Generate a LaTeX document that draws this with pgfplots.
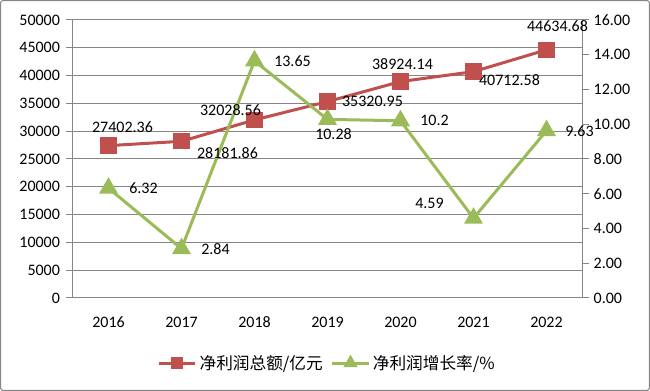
\documentclass[border=0pt]{standalone}
\usepackage{pgfplots}
\pgfplotsset{compat=1.18}
\usepackage{fontspec}
\setmainfont{Carlito}
\newfontfamily\cjk{Noto Sans CJK SC}
\definecolor{cred}{HTML}{C0504D}
\definecolor{cgreen}{HTML}{9BBB59}
\definecolor{gridc}{HTML}{868686}
\newcommand\lf{\fontsize{12}{14}\selectfont}
\begin{document}
\begin{tikzpicture}
\draw[gridc, line width=0.8pt, rounded corners=2pt] (0.4pt,0.4pt) rectangle (487.1pt,292.85pt);
\pgfplotsset{
  common/.style={
    at={(54pt,69.75pt)}, anchor=south west, scale only axis,
    width=383.25pt, height=208.5pt,
    xmin=-0.5, xmax=6.5,
    axis line style={-, gridc, line width=0.75pt},
    tick align=outside, major tick length=4.5pt,
    tick style={gridc, line width=0.75pt},
    tick label style={font=\lf},
    /pgf/number format/assume math mode=true,
    clip=false,
  }
}
\begin{axis}[common,
  ymin=0, ymax=50000,
  xtick={0,...,6}, xticklabels={2016,2017,2018,2019,2020,2021,2022},
  major x tick style={draw=none},
  xticklabel style={yshift=-6pt},
  extra x ticks={-0.5,0.5,...,6.5}, extra x tick labels={},
  extra x tick style={grid=none, major tick length=5pt, tick style={gridc, line width=0.75pt}},
  ytick={0,5000,...,50000},
  yticklabel style={/pgf/number format/1000 sep={}, xshift=-1pt},
  scaled y ticks=false,
  ymajorgrids, grid style={gridc, line width=0.75pt},
  axis x line*=bottom, axis y line*=left,
]
\addplot[cred, line width=2.25pt, mark=square*, mark size=5pt, mark options={solid}] coordinates {
  (0,27402.36) (1,28181.86) (2,32028.56) (3,35320.95) (4,38924.14) (5,40712.58) (6,44634.68)};
\end{axis}
\begin{axis}[common,
  ymin=0, ymax=16,
  axis x line=none, axis y line*=right,
  ytick={0,2,...,16},
  yticklabel style={/pgf/number format/.cd, fixed, fixed zerofill, precision=2},
  legend columns=2,
  legend style={at={(0.5,-0.234)}, anchor=center, draw=none, fill=none,
    font=\cjk\fontsize{12.5}{14}\selectfont,
    /tikz/every even column/.append style={column sep=4pt}},
  legend image code/.code={\draw[mark repeat=2, mark phase=2] plot coordinates {(0cm,0cm) (0.48cm,0cm) (0.96cm,0cm)};},
]
\addlegendimage{cred, line width=2.25pt, mark=square*, mark size=3.5pt, mark options={solid}}
\addlegendentry{净利润总额/亿元}
\addlegendimage{cgreen, line width=2.25pt, mark=triangle*, mark size=4pt, mark options={solid}}
\addlegendentry{净利润增长率/\%}
\addplot[cgreen, line width=2.25pt, mark=triangle*, mark size=6pt, mark options={solid}, forget plot] coordinates {
  (0,6.32) (1,2.84) (2,13.65) (3,10.28) (4,10.2) (5,4.59) (6,9.63)};
% labels of the red series (values scaled to the right axis: v*16/50000)
\node[font=\lf, xshift=10.5pt, yshift=13.5pt] at (axis cs:0,8.7688) {27402.36};
\node[font=\lf, xshift=34.5pt, yshift=-9pt] at (axis cs:1,9.0182) {28181.86};
\node[font=\lf, xshift=-18pt, yshift=7.5pt] at (axis cs:2,10.2491) {32028.56};
\node[font=\lf, xshift=33.75pt, yshift=0pt] at (axis cs:3,11.3027) {35320.95};
\node[font=\lf, xshift=1.5pt, yshift=12.75pt] at (axis cs:4,12.4557) {38924.14};
\node[font=\lf, xshift=27pt, yshift=-6pt] at (axis cs:5,13.0280) {40712.58};
\node[font=\lf, xshift=8.25pt, yshift=18pt] at (axis cs:6,14.2831) {44634.68};
% labels of the green series
\node[font=\lf, xshift=26.25pt] at (axis cs:0,6.32) {6.32};
\node[font=\lf, xshift=25.5pt] at (axis cs:1,2.84) {2.84};
\node[font=\lf, xshift=28.5pt] at (axis cs:2,13.65) {13.65};
\node[font=\lf, xshift=4.5pt, yshift=-11.25pt] at (axis cs:3,10.28) {10.28};
\node[font=\lf, xshift=25.5pt] at (axis cs:4,10.2) {10.2};
\node[font=\lf, xshift=-33pt, yshift=11.25pt] at (axis cs:5,4.59) {4.59};
\node[font=\lf, xshift=24.75pt] at (axis cs:6,9.63) {9.63};
\end{axis}
\end{tikzpicture}
\end{document}
